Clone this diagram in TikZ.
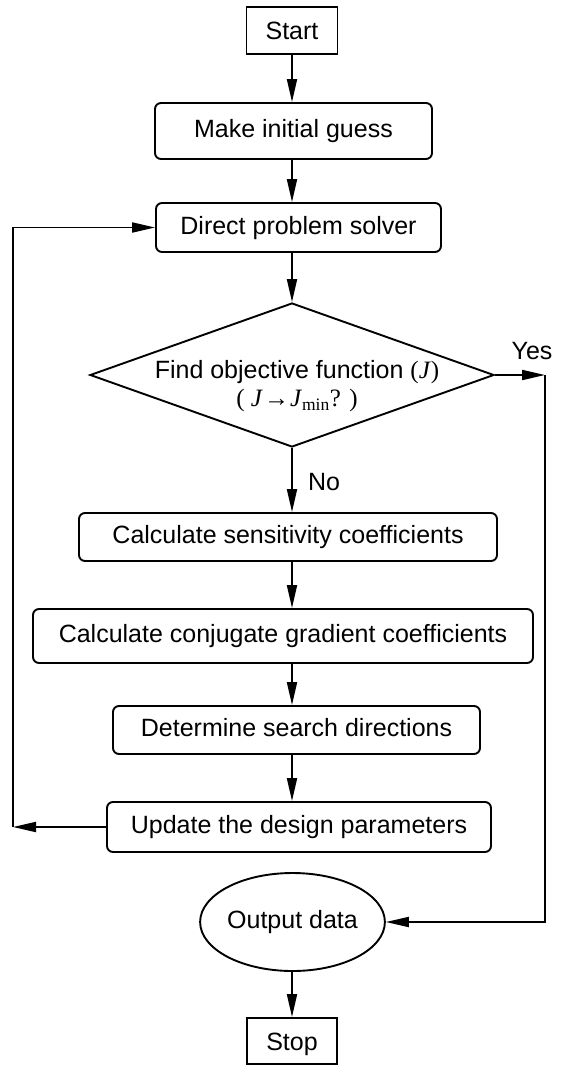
\documentclass[tikz,border=0pt]{standalone}
\usepackage{fontspec}
\setmainfont{Liberation Sans}
\newfontfamily\timesfont{Liberation Serif}
\usetikzlibrary{shapes.geometric,arrows.meta}

\begin{document}
\begin{tikzpicture}[x=1pt,y=-1pt,
    font=\fontsize{25}{28}\selectfont,
    line width=1.9pt,
    >={Triangle[length=23pt,width=10pt]},
    term/.style={draw,rectangle,inner sep=0pt,minimum width=91pt,minimum height=47pt,text height=18pt,text depth=0pt},
    proc/.style={draw,rectangle,rounded corners=6pt,inner sep=0pt,text height=18pt,text depth=5pt},
    decision/.style={draw,diamond,inner sep=0pt,minimum width=404pt,minimum height=144pt},
    outbox/.style={draw,ellipse,inner sep=0pt,minimum width=161pt,minimum height=98pt,text height=18pt,text depth=5pt}]
  \useasboundingbox (0,0) rectangle (560,1066);
  \node[term] (start) at (292,30.5) {Start};
  \node[proc,minimum width=277pt,minimum height=56pt] (guess) at (293.5,131) {Make initial guess};
  \node[proc,minimum width=285pt,minimum height=49pt] (solver) at (298.5,227.5) {Direct problem solver};
  \node[decision] (dec) at (292,375) {};
  \node[inner sep=0pt,align=center] (dectext) at (297,386)
    {Find objective function {\timesfont(\textit{J})}\\
     {\timesfont( \textit{J}\kern1pt→\kern1pt\textit{J}\textsubscript{min}? )}};
  \node[proc,minimum width=418pt,minimum height=48pt] (sens) at (288,537) {Calculate sensitivity coefficients};
  \node[proc,minimum width=500pt,minimum height=54pt] (conj) at (283,636) {Calculate conjugate gradient coefficients};
  \node[proc,minimum width=367pt,minimum height=48pt] (dir) at (296.5,730) {Determine search directions};
  \node[proc,minimum width=384pt,minimum height=50pt] (upd) at (299,827) {Update the design parameters};
  \node[outbox] (out) at (292.5,922) {Output data};
  \node[term,minimum width=90pt,minimum height=46pt] (stop) at (292,1041) {Stop};
  \node (yes) at (532,351) {Yes};
  \node (no) at (324,482) {No};
  \coordinate (loopx) at (13,0);
  \coordinate (yesx) at (545,0);

  \draw[->] (start) -- (start |- guess.north);
  \draw[->] (start |- guess.south) -- (start |- solver.north);
  \draw[->] (start |- solver.south) -- (dec);
  \draw[->] (dec) -- (start |- sens.north);
  \draw[->] (start |- sens.south) -- (start |- conj.north);
  \draw[->] (start |- conj.south) -- (start |- dir.north);
  \draw[->] (start |- dir.south) -- (start |- upd.north);
  \draw[->] (upd.west) -- (upd.west -| loopx);
  \draw[->] (upd.west -| loopx) -- (solver.west -| loopx) -- (solver.west);
  \draw[->] (dec.east) -- (dec.east -| yesx);
  \draw[->] (dec.east -| yesx) -- (yesx |- out.east) -- (out.east);
  \draw[->] (start |- out.south) -- (start |- stop.north);
\end{tikzpicture}
\end{document}
